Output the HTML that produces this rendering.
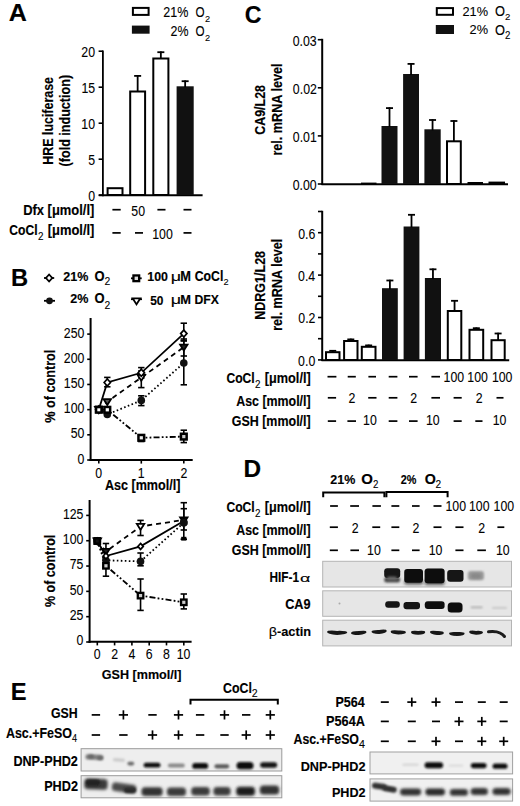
<!DOCTYPE html>
<html><head><meta charset="utf-8"><style>
html,body{margin:0;padding:0;background:#fff;}
svg{display:block;font-family:"Liberation Sans",sans-serif;}
</style></head><body>
<svg width="520" height="806" viewBox="0 0 520 806">
<rect width="520" height="806" fill="#fff"/>
<text transform="translate(8.67,21.40) scale(1.0299,1)" font-size="24.35" font-weight="bold" fill="#000" stroke="#000" stroke-width="0.15">A</text>
<rect x="132.90" y="7.90" width="15.70" height="7.00" fill="#fff" stroke="#000" stroke-width="2"/>
<rect x="131.90" y="25.60" width="17.70" height="8.10" fill="#111"/>
<text transform="translate(163.37,17.00) scale(0.8861,1)" font-size="14.14" font-weight="normal" fill="#000" stroke="#000" stroke-width="0.1">21%</text>
<text transform="translate(195.47,17.20) scale(0.7900,1)" font-size="14.78" font-weight="normal" fill="#000" stroke="#000" stroke-width="0.1">O</text>
<text transform="translate(205.04,21.80) scale(0.9502,1)" font-size="9.71" font-weight="normal" fill="#000" stroke="#000" stroke-width="0.1">2</text>
<text transform="translate(170.48,36.10) scale(0.8786,1)" font-size="14.14" font-weight="normal" fill="#000" stroke="#000" stroke-width="0.1">2%</text>
<text transform="translate(195.47,36.30) scale(0.7824,1)" font-size="14.93" font-weight="normal" fill="#000" stroke="#000" stroke-width="0.1">O</text>
<text transform="translate(205.04,41.40) scale(0.9502,1)" font-size="9.71" font-weight="normal" fill="#000" stroke="#000" stroke-width="0.1">2</text>
<line x1="102.9" y1="50.4" x2="102.9" y2="196.2" stroke="#000" stroke-width="1.8" />
<line x1="98.6" y1="195.2" x2="103" y2="195.2" stroke="#000" stroke-width="1.6" />
<text transform="translate(88.20,201.00) scale(0.8100,1)" font-size="15.20" font-weight="normal" fill="#000" stroke="#000" stroke-width="0.1">0</text>
<line x1="98.6" y1="159.2" x2="103" y2="159.2" stroke="#000" stroke-width="1.6" />
<text transform="translate(88.26,165.00) scale(0.8100,1)" font-size="15.20" font-weight="normal" fill="#000" stroke="#000" stroke-width="0.1">5</text>
<line x1="98.6" y1="123.19999999999999" x2="103" y2="123.19999999999999" stroke="#000" stroke-width="1.6" />
<text transform="translate(81.36,129.00) scale(0.8100,1)" font-size="15.20" font-weight="normal" fill="#000" stroke="#000" stroke-width="0.1">10</text>
<line x1="98.6" y1="87.19999999999999" x2="103" y2="87.19999999999999" stroke="#000" stroke-width="1.6" />
<text transform="translate(81.43,93.00) scale(0.8100,1)" font-size="15.20" font-weight="normal" fill="#000" stroke="#000" stroke-width="0.1">15</text>
<line x1="98.6" y1="51.19999999999999" x2="103" y2="51.19999999999999" stroke="#000" stroke-width="1.6" />
<text transform="translate(81.36,57.00) scale(0.8100,1)" font-size="15.20" font-weight="normal" fill="#000" stroke="#000" stroke-width="0.1">20</text>
<line x1="98.8" y1="195.3" x2="202.6" y2="195.3" stroke="#000" stroke-width="2" />
<text transform="translate(53.20,164.81) rotate(-90) scale(0.8595,1)" font-size="14.49" font-weight="bold" stroke="#000" stroke-width="0.15">HRE luciferase</text>
<text transform="translate(70.30,166.43) rotate(-90) scale(0.8687,1)" font-size="14.49" font-weight="bold" stroke="#000" stroke-width="0.15">(fold induction)</text>
<rect x="107.60" y="188.20" width="14.90" height="6.80" fill="#fff" stroke="#000" stroke-width="2"/>
<rect x="130.20" y="91.50" width="14.90" height="103.50" fill="#fff" stroke="#000" stroke-width="2"/>
<line x1="137.64999999999998" y1="75.1" x2="137.64999999999998" y2="91.5" stroke="#000" stroke-width="1.8" />
<line x1="134.14999999999998" y1="75.89999999999999" x2="141.14999999999998" y2="75.89999999999999" stroke="#000" stroke-width="1.8" />
<rect x="153.30" y="58.50" width="15.10" height="136.50" fill="#fff" stroke="#000" stroke-width="2"/>
<line x1="160.85000000000002" y1="51.4" x2="160.85000000000002" y2="58.5" stroke="#000" stroke-width="1.8" />
<line x1="157.35000000000002" y1="52.199999999999996" x2="164.35000000000002" y2="52.199999999999996" stroke="#000" stroke-width="1.8" />
<rect x="176.60" y="86.30" width="17.10" height="108.70" fill="#111"/>
<line x1="185.14999999999998" y1="80.4" x2="185.14999999999998" y2="87.3" stroke="#000" stroke-width="1.8" />
<line x1="181.64999999999998" y1="81.2" x2="188.64999999999998" y2="81.2" stroke="#000" stroke-width="1.8" />
<text transform="translate(23.16,214.70) scale(0.8851,1)" font-size="14.64" font-weight="bold" fill="#000" stroke="#000" stroke-width="0.15">Dfx [μmol/l]</text>
<text transform="translate(9.31,234.90) scale(0.8544,1)" font-size="14.20" font-weight="bold" fill="#000" stroke="#000" stroke-width="0.15">CoCl</text>
<text transform="translate(38.01,240.10) scale(0.9356,1)" font-size="10.57" font-weight="normal" fill="#000" stroke="#000" stroke-width="0.1">2</text>
<text transform="translate(47.69,234.90) scale(0.9113,1)" font-size="14.20" font-weight="bold" fill="#000" stroke="#000" stroke-width="0.15">[μmol/l]</text>
<rect x="112.40" y="208.85" width="8.30" height="1.70" fill="#000"/>
<text transform="translate(131.34,215.80) scale(0.8100,1)" font-size="15.20" font-weight="normal" fill="#000" stroke="#000" stroke-width="0.1">50</text>
<rect x="157.40" y="208.85" width="8.10" height="1.70" fill="#000"/>
<rect x="183.50" y="208.85" width="8.00" height="1.70" fill="#000"/>
<rect x="112.40" y="232.05" width="8.30" height="1.70" fill="#000"/>
<rect x="135.00" y="232.05" width="8.00" height="1.70" fill="#000"/>
<text transform="translate(152.20,238.80) scale(0.8100,1)" font-size="15.20" font-weight="normal" fill="#000" stroke="#000" stroke-width="0.1">100</text>
<rect x="183.50" y="232.05" width="8.00" height="1.70" fill="#000"/>
<text transform="translate(244.67,23.30) scale(0.9531,1)" font-size="24.35" font-weight="bold" fill="#000" stroke="#000" stroke-width="0.15">C</text>
<rect x="436.80" y="8.10" width="16.20" height="6.70" fill="#fff" stroke="#000" stroke-width="2"/>
<rect x="435.80" y="25.00" width="18.20" height="9.00" fill="#111"/>
<text transform="translate(462.46,15.60) scale(0.9329,1)" font-size="13.71" font-weight="normal" fill="#000" stroke="#000" stroke-width="0.1">21%</text>
<text transform="translate(494.92,15.90) scale(0.8954,1)" font-size="14.35" font-weight="normal" fill="#000" stroke="#000" stroke-width="0.1">O</text>
<text transform="translate(505.12,20.30) scale(0.9810,1)" font-size="9.86" font-weight="normal" fill="#000" stroke="#000" stroke-width="0.1">2</text>
<text transform="translate(469.56,34.10) scale(0.9329,1)" font-size="13.71" font-weight="normal" fill="#000" stroke="#000" stroke-width="0.1">2%</text>
<text transform="translate(494.92,34.50) scale(0.8864,1)" font-size="14.49" font-weight="normal" fill="#000" stroke="#000" stroke-width="0.1">O</text>
<text transform="translate(505.12,39.30) scale(0.9148,1)" font-size="10.57" font-weight="normal" fill="#000" stroke="#000" stroke-width="0.1">2</text>
<line x1="322.2" y1="38.8" x2="322.2" y2="185" stroke="#000" stroke-width="2" />
<line x1="317.8" y1="184.0" x2="322.2" y2="184.0" stroke="#000" stroke-width="1.6" />
<text transform="translate(292.68,189.80) scale(0.8100,1)" font-size="15.20" font-weight="normal" fill="#000" stroke="#000" stroke-width="0.1">0.00</text>
<line x1="317.8" y1="135.9" x2="322.2" y2="135.9" stroke="#000" stroke-width="1.6" />
<text transform="translate(292.81,141.70) scale(0.8100,1)" font-size="15.20" font-weight="normal" fill="#000" stroke="#000" stroke-width="0.1">0.01</text>
<line x1="317.8" y1="87.8" x2="322.2" y2="87.8" stroke="#000" stroke-width="1.6" />
<text transform="translate(292.87,93.60) scale(0.8100,1)" font-size="15.20" font-weight="normal" fill="#000" stroke="#000" stroke-width="0.1">0.02</text>
<line x1="317.8" y1="39.69999999999999" x2="322.2" y2="39.69999999999999" stroke="#000" stroke-width="1.6" />
<text transform="translate(292.75,45.50) scale(0.8100,1)" font-size="15.20" font-weight="normal" fill="#000" stroke="#000" stroke-width="0.1">0.03</text>
<line x1="321.5" y1="184.2" x2="508" y2="184.2" stroke="#000" stroke-width="2" />
<text transform="translate(264.60,134.70) rotate(-90) scale(0.8743,1)" font-size="14.20" font-weight="bold" stroke="#000" stroke-width="0.15">CA9/L28</text>
<text transform="translate(282.30,155.62) rotate(-90) scale(0.8903,1)" font-size="14.20" font-weight="bold" stroke="#000" stroke-width="0.15">rel. mRNA level</text>
<rect x="381.50" y="126.00" width="16.00" height="58.00" fill="#111"/>
<line x1="389.5" y1="107.3" x2="389.5" y2="127" stroke="#000" stroke-width="1.8" />
<line x1="386.0" y1="108.1" x2="393.0" y2="108.1" stroke="#000" stroke-width="1.8" />
<rect x="403.10" y="74.00" width="15.90" height="110.00" fill="#111"/>
<line x1="411.05" y1="63.1" x2="411.05" y2="75" stroke="#000" stroke-width="1.8" />
<line x1="407.55" y1="63.9" x2="414.55" y2="63.9" stroke="#000" stroke-width="1.8" />
<rect x="424.40" y="129.30" width="16.30" height="54.70" fill="#111"/>
<line x1="432.54999999999995" y1="119.2" x2="432.54999999999995" y2="130.3" stroke="#000" stroke-width="1.8" />
<line x1="429.04999999999995" y1="120.0" x2="436.04999999999995" y2="120.0" stroke="#000" stroke-width="1.8" />
<rect x="447.00" y="141.30" width="13.80" height="42.70" fill="#fff" stroke="#000" stroke-width="2"/>
<line x1="453.9" y1="120.2" x2="453.9" y2="141.3" stroke="#000" stroke-width="1.8" />
<line x1="450.4" y1="121.0" x2="457.4" y2="121.0" stroke="#000" stroke-width="1.8" />
<rect x="468.50" y="183.00" width="13.50" height="1.00" fill="#fff" stroke="#000" stroke-width="2"/>
<rect x="489.50" y="182.60" width="14.50" height="1.40" fill="#fff" stroke="#000" stroke-width="2"/>
<rect x="362.00" y="183.60" width="13.50" height="0.40" fill="#fff" stroke="#000" stroke-width="2"/>
<line x1="322.2" y1="210.8" x2="322.2" y2="361" stroke="#000" stroke-width="2" />
<line x1="318.0" y1="359.9" x2="322.2" y2="359.9" stroke="#000" stroke-width="1.6" />
<text transform="translate(298.12,365.70) scale(0.8100,1)" font-size="15.20" font-weight="normal" fill="#000" stroke="#000" stroke-width="0.1">0.0</text>
<line x1="318.0" y1="338.7" x2="322.2" y2="338.7" stroke="#000" stroke-width="1.6" />
<line x1="318.0" y1="317.5" x2="322.2" y2="317.5" stroke="#000" stroke-width="1.6" />
<text transform="translate(298.30,323.30) scale(0.8100,1)" font-size="15.20" font-weight="normal" fill="#000" stroke="#000" stroke-width="0.1">0.2</text>
<line x1="318.0" y1="296.29999999999995" x2="322.2" y2="296.29999999999995" stroke="#000" stroke-width="1.6" />
<line x1="318.0" y1="275.09999999999997" x2="322.2" y2="275.09999999999997" stroke="#000" stroke-width="1.6" />
<text transform="translate(298.06,280.90) scale(0.8100,1)" font-size="15.20" font-weight="normal" fill="#000" stroke="#000" stroke-width="0.1">0.4</text>
<line x1="318.0" y1="253.89999999999998" x2="322.2" y2="253.89999999999998" stroke="#000" stroke-width="1.6" />
<line x1="318.0" y1="232.7" x2="322.2" y2="232.7" stroke="#000" stroke-width="1.6" />
<text transform="translate(298.18,238.50) scale(0.8100,1)" font-size="15.20" font-weight="normal" fill="#000" stroke="#000" stroke-width="0.1">0.6</text>
<line x1="318.0" y1="211.49999999999997" x2="322.2" y2="211.49999999999997" stroke="#000" stroke-width="1.6" />
<line x1="321.5" y1="360.3" x2="509.2" y2="360.3" stroke="#000" stroke-width="2" />
<text transform="translate(264.60,319.82) rotate(-90) scale(0.8832,1)" font-size="14.20" font-weight="bold" stroke="#000" stroke-width="0.15">NDRG1/L28</text>
<text transform="translate(282.30,330.82) rotate(-90) scale(0.8883,1)" font-size="14.20" font-weight="bold" stroke="#000" stroke-width="0.15">rel. mRNA level</text>
<rect x="326.00" y="352.20" width="13.50" height="7.80" fill="#fff" stroke="#000" stroke-width="2"/>
<line x1="332.75" y1="350.0" x2="332.75" y2="352.2" stroke="#000" stroke-width="1.8" />
<line x1="329.25" y1="350.8" x2="336.25" y2="350.8" stroke="#000" stroke-width="1.8" />
<rect x="344.10" y="341.00" width="13.40" height="19.00" fill="#fff" stroke="#000" stroke-width="2"/>
<line x1="350.8" y1="338.6" x2="350.8" y2="341" stroke="#000" stroke-width="1.8" />
<line x1="347.3" y1="339.40000000000003" x2="354.3" y2="339.40000000000003" stroke="#000" stroke-width="1.8" />
<rect x="361.80" y="346.80" width="13.70" height="13.20" fill="#fff" stroke="#000" stroke-width="2"/>
<line x1="368.65" y1="344.6" x2="368.65" y2="346.8" stroke="#000" stroke-width="1.8" />
<line x1="365.15" y1="345.40000000000003" x2="372.15" y2="345.40000000000003" stroke="#000" stroke-width="1.8" />
<rect x="382.00" y="288.20" width="15.80" height="71.80" fill="#111"/>
<line x1="389.9" y1="279.7" x2="389.9" y2="289.2" stroke="#000" stroke-width="1.8" />
<line x1="386.4" y1="280.5" x2="393.4" y2="280.5" stroke="#000" stroke-width="1.8" />
<rect x="403.60" y="226.50" width="15.80" height="133.50" fill="#111"/>
<line x1="411.5" y1="214.0" x2="411.5" y2="227.5" stroke="#000" stroke-width="1.8" />
<line x1="408.0" y1="214.8" x2="415.0" y2="214.8" stroke="#000" stroke-width="1.8" />
<rect x="424.90" y="278.00" width="16.10" height="82.00" fill="#111"/>
<line x1="432.95" y1="268.5" x2="432.95" y2="279" stroke="#000" stroke-width="1.8" />
<line x1="429.45" y1="269.3" x2="436.45" y2="269.3" stroke="#000" stroke-width="1.8" />
<rect x="447.80" y="311.00" width="13.50" height="49.00" fill="#fff" stroke="#000" stroke-width="2"/>
<line x1="454.55" y1="300" x2="454.55" y2="311" stroke="#000" stroke-width="1.8" />
<line x1="451.05" y1="300.8" x2="458.05" y2="300.8" stroke="#000" stroke-width="1.8" />
<rect x="469.50" y="329.80" width="13.70" height="30.20" fill="#fff" stroke="#000" stroke-width="2"/>
<line x1="476.35" y1="327.4" x2="476.35" y2="329.8" stroke="#000" stroke-width="1.8" />
<line x1="472.85" y1="328.2" x2="479.85" y2="328.2" stroke="#000" stroke-width="1.8" />
<rect x="491.50" y="340.20" width="13.20" height="19.80" fill="#fff" stroke="#000" stroke-width="2"/>
<line x1="498.1" y1="332.7" x2="498.1" y2="340.2" stroke="#000" stroke-width="1.8" />
<line x1="494.6" y1="333.5" x2="501.6" y2="333.5" stroke="#000" stroke-width="1.8" />
<text transform="translate(226.41,382.70) scale(0.8290,1)" font-size="14.64" font-weight="bold" fill="#000" stroke="#000" stroke-width="0.15">CoCl</text>
<text transform="translate(255.11,387.90) scale(0.9356,1)" font-size="10.57" font-weight="normal" fill="#000" stroke="#000" stroke-width="0.1">2</text>
<text transform="translate(264.80,382.70) scale(0.8686,1)" font-size="14.64" font-weight="bold" fill="#000" stroke="#000" stroke-width="0.15">[μmol/l]</text>
<text transform="translate(236.19,405.80) scale(0.8482,1)" font-size="14.64" font-weight="bold" fill="#000" stroke="#000" stroke-width="0.15">Asc [mmol/l]</text>
<text transform="translate(231.70,426.00) scale(0.8525,1)" font-size="14.64" font-weight="bold" fill="#000" stroke="#000" stroke-width="0.15">GSH [mmol/l]</text>
<rect x="327.50" y="375.85" width="8.90" height="1.70" fill="#000"/>
<rect x="347.70" y="375.85" width="8.10" height="1.70" fill="#000"/>
<rect x="368.40" y="375.85" width="7.60" height="1.70" fill="#000"/>
<rect x="388.70" y="375.85" width="8.70" height="1.70" fill="#000"/>
<rect x="409.00" y="375.85" width="8.60" height="1.70" fill="#000"/>
<rect x="431.40" y="375.85" width="8.60" height="1.70" fill="#000"/>
<text transform="translate(443.55,382.00) scale(0.8100,1)" font-size="15.20" font-weight="normal" fill="#000" stroke="#000" stroke-width="0.1">100</text>
<text transform="translate(467.35,382.00) scale(0.8100,1)" font-size="15.20" font-weight="normal" fill="#000" stroke="#000" stroke-width="0.1">100</text>
<text transform="translate(491.90,382.00) scale(0.8100,1)" font-size="15.20" font-weight="normal" fill="#000" stroke="#000" stroke-width="0.1">100</text>
<rect x="327.80" y="396.95" width="8.30" height="1.70" fill="#000"/>
<text transform="translate(348.48,403.00) scale(0.8100,1)" font-size="15.20" font-weight="normal" fill="#000" stroke="#000" stroke-width="0.1">2</text>
<rect x="368.20" y="396.95" width="8.30" height="1.70" fill="#000"/>
<rect x="388.70" y="396.95" width="8.70" height="1.70" fill="#000"/>
<text transform="translate(410.18,403.00) scale(0.8100,1)" font-size="15.20" font-weight="normal" fill="#000" stroke="#000" stroke-width="0.1">2</text>
<rect x="431.40" y="396.95" width="8.60" height="1.70" fill="#000"/>
<rect x="453.60" y="396.95" width="8.10" height="1.70" fill="#000"/>
<text transform="translate(475.78,403.00) scale(0.8100,1)" font-size="15.20" font-weight="normal" fill="#000" stroke="#000" stroke-width="0.1">2</text>
<rect x="496.50" y="396.95" width="7.00" height="1.70" fill="#000"/>
<rect x="327.80" y="420.25" width="8.30" height="1.70" fill="#000"/>
<rect x="347.40" y="420.25" width="8.60" height="1.70" fill="#000"/>
<text transform="translate(363.12,424.90) scale(0.8100,1)" font-size="15.20" font-weight="normal" fill="#000" stroke="#000" stroke-width="0.1">10</text>
<rect x="388.70" y="420.25" width="8.70" height="1.70" fill="#000"/>
<rect x="409.00" y="420.25" width="8.60" height="1.70" fill="#000"/>
<text transform="translate(426.02,424.90) scale(0.8100,1)" font-size="15.20" font-weight="normal" fill="#000" stroke="#000" stroke-width="0.1">10</text>
<rect x="453.60" y="420.25" width="8.10" height="1.70" fill="#000"/>
<rect x="475.30" y="420.25" width="7.20" height="1.70" fill="#000"/>
<text transform="translate(492.72,424.90) scale(0.8100,1)" font-size="15.20" font-weight="normal" fill="#000" stroke="#000" stroke-width="0.1">10</text>
<text transform="translate(11.05,286.30) scale(0.9940,1)" font-size="23.91" font-weight="bold" fill="#000" stroke="#000" stroke-width="0.15">B</text>
<line x1="44.0" y1="278" x2="54.2" y2="278" stroke="#000" stroke-width="1.8" />
<path d="M49.1 274.5 L52.25 278 L49.1 281.5 L45.95 278 Z" fill="#fff" stroke="#000" stroke-width="1.8"/>
<line x1="44.0" y1="300.8" x2="55.0" y2="300.8" stroke="#000" stroke-width="1.8" />
<circle cx="49.5" cy="300.8" r="3.4" fill="#111"/>
<line x1="131" y1="278.3" x2="141.7" y2="278.3" stroke="#000" stroke-width="1.8" />
<rect x="133.45" y="275.45" width="5.70" height="5.70" fill="#ddd" stroke="#000" stroke-width="2.3"/>
<line x1="131" y1="299.2" x2="142" y2="299.2" stroke="#000" stroke-width="1.8" />
<path d="M132.7 298.34 L140.3 298.34 L136.5 304.42 Z" fill="#fff" stroke="#000" stroke-width="1.8" stroke-linejoin="miter"/>
<text transform="translate(63.26,280.50) scale(0.9133,1)" font-size="13.71" font-weight="bold" fill="#000" stroke="#000" stroke-width="0.15">21%</text>
<text transform="translate(94.38,280.80) scale(0.9026,1)" font-size="14.35" font-weight="bold" fill="#000" stroke="#000" stroke-width="0.15">O</text>
<text transform="translate(104.48,285.30) scale(1.0330,1)" font-size="10.00" font-weight="normal" fill="#000" stroke="#000" stroke-width="0.1">2</text>
<text transform="translate(70.16,302.70) scale(0.9257,1)" font-size="13.57" font-weight="bold" fill="#000" stroke="#000" stroke-width="0.15">2%</text>
<text transform="translate(94.38,303.00) scale(0.9118,1)" font-size="14.20" font-weight="bold" fill="#000" stroke="#000" stroke-width="0.15">O</text>
<text transform="translate(104.48,308.50) scale(0.9641,1)" font-size="10.71" font-weight="normal" fill="#000" stroke="#000" stroke-width="0.1">2</text>
<text transform="translate(147.26,280.80) scale(0.9432,1)" font-size="13.14" font-weight="bold" fill="#000" stroke="#000" stroke-width="0.15">100</text>
<text transform="translate(170.73,280.60) scale(1.3300,1)" font-size="13.50" font-weight="normal" fill="#000" stroke="#000" stroke-width="0.1">μ</text>
<text transform="translate(180.36,280.60) scale(0.9052,1)" font-size="14.20" font-weight="bold" fill="#000" stroke="#000" stroke-width="0.15">M</text>
<text transform="translate(194.71,280.60) scale(0.8639,1)" font-size="14.20" font-weight="bold" fill="#000" stroke="#000" stroke-width="0.15">CoCl</text>
<text transform="translate(223.44,285.20) scale(0.9502,1)" font-size="9.71" font-weight="normal" fill="#000" stroke="#000" stroke-width="0.1">2</text>
<text transform="translate(150.24,304.70) scale(0.9072,1)" font-size="13.14" font-weight="bold" fill="#000" stroke="#000" stroke-width="0.15">50</text>
<text transform="translate(170.73,304.00) scale(1.3300,1)" font-size="13.50" font-weight="normal" fill="#000" stroke="#000" stroke-width="0.1">μ</text>
<text transform="translate(180.36,304.00) scale(0.9438,1)" font-size="13.62" font-weight="bold" fill="#000" stroke="#000" stroke-width="0.15">M</text>
<text transform="translate(194.41,304.00) scale(0.8961,1)" font-size="13.62" font-weight="bold" fill="#000" stroke="#000" stroke-width="0.15">DFX</text>
<line x1="90.6" y1="318" x2="90.6" y2="461" stroke="#000" stroke-width="2" />
<line x1="87.2" y1="460.0" x2="90.6" y2="460.0" stroke="#000" stroke-width="1.6" />
<text transform="translate(77.50,463.60) scale(0.8100,1)" font-size="15.20" font-weight="normal" fill="#000" stroke="#000" stroke-width="0.1">0</text>
<line x1="87.2" y1="434.82" x2="90.6" y2="434.82" stroke="#000" stroke-width="1.6" />
<text transform="translate(70.66,438.42) scale(0.8100,1)" font-size="15.20" font-weight="normal" fill="#000" stroke="#000" stroke-width="0.1">50</text>
<line x1="87.2" y1="409.64" x2="90.6" y2="409.64" stroke="#000" stroke-width="1.6" />
<text transform="translate(63.83,413.24) scale(0.8100,1)" font-size="15.20" font-weight="normal" fill="#000" stroke="#000" stroke-width="0.1">100</text>
<line x1="87.2" y1="384.46" x2="90.6" y2="384.46" stroke="#000" stroke-width="1.6" />
<text transform="translate(63.83,388.06) scale(0.8100,1)" font-size="15.20" font-weight="normal" fill="#000" stroke="#000" stroke-width="0.1">150</text>
<line x1="87.2" y1="359.28" x2="90.6" y2="359.28" stroke="#000" stroke-width="1.6" />
<text transform="translate(63.83,362.88) scale(0.8100,1)" font-size="15.20" font-weight="normal" fill="#000" stroke="#000" stroke-width="0.1">200</text>
<line x1="87.2" y1="334.1" x2="90.6" y2="334.1" stroke="#000" stroke-width="1.6" />
<text transform="translate(63.83,337.70) scale(0.8100,1)" font-size="15.20" font-weight="normal" fill="#000" stroke="#000" stroke-width="0.1">250</text>
<line x1="89.6" y1="460" x2="192.7" y2="460" stroke="#000" stroke-width="2" />
<line x1="98.8" y1="460" x2="98.8" y2="463.6" stroke="#000" stroke-width="1.6" />
<text transform="translate(95.35,477.90) scale(0.8100,1)" font-size="15.20" font-weight="normal" fill="#000" stroke="#000" stroke-width="0.1">0</text>
<line x1="141.3" y1="460" x2="141.3" y2="463.6" stroke="#000" stroke-width="1.6" />
<text transform="translate(137.70,477.90) scale(0.8100,1)" font-size="15.20" font-weight="normal" fill="#000" stroke="#000" stroke-width="0.1">1</text>
<line x1="183.8" y1="460" x2="183.8" y2="463.6" stroke="#000" stroke-width="1.6" />
<text transform="translate(180.38,477.90) scale(0.8100,1)" font-size="15.20" font-weight="normal" fill="#000" stroke="#000" stroke-width="0.1">2</text>
<text transform="translate(104.88,489.60) scale(0.9057,1)" font-size="13.91" font-weight="bold" fill="#000" stroke="#000" stroke-width="0.15">Asc [mmol/l]</text>
<text transform="translate(55.00,422.82) rotate(-90) scale(0.9022,1)" font-size="14.06" font-weight="bold" stroke="#000" stroke-width="0.15">% of control</text>
<line x1="107.3" y1="377.4" x2="107.3" y2="386.8" stroke="#000" stroke-width="1.6" />
<line x1="104.1" y1="377.4" x2="110.5" y2="377.4" stroke="#000" stroke-width="1.6" />
<line x1="104.1" y1="386.8" x2="110.5" y2="386.8" stroke="#000" stroke-width="1.6" />
<line x1="141.3" y1="367.6" x2="141.3" y2="378" stroke="#000" stroke-width="1.6" />
<line x1="138.10000000000002" y1="367.6" x2="144.5" y2="367.6" stroke="#000" stroke-width="1.6" />
<line x1="138.10000000000002" y1="378" x2="144.5" y2="378" stroke="#000" stroke-width="1.6" />
<line x1="183.8" y1="323.2" x2="183.8" y2="340.5" stroke="#000" stroke-width="1.6" />
<line x1="180.60000000000002" y1="323.2" x2="187.0" y2="323.2" stroke="#000" stroke-width="1.6" />
<line x1="180.60000000000002" y1="340.5" x2="187.0" y2="340.5" stroke="#000" stroke-width="1.6" />
<line x1="141.3" y1="371" x2="141.3" y2="387.6" stroke="#000" stroke-width="1.6" />
<line x1="138.10000000000002" y1="371" x2="144.5" y2="371" stroke="#000" stroke-width="1.6" />
<line x1="138.10000000000002" y1="387.6" x2="144.5" y2="387.6" stroke="#000" stroke-width="1.6" />
<line x1="183.8" y1="339" x2="183.8" y2="356" stroke="#000" stroke-width="1.6" />
<line x1="180.60000000000002" y1="339" x2="187.0" y2="339" stroke="#000" stroke-width="1.6" />
<line x1="180.60000000000002" y1="356" x2="187.0" y2="356" stroke="#000" stroke-width="1.6" />
<line x1="141.3" y1="395.8" x2="141.3" y2="405.6" stroke="#000" stroke-width="1.6" />
<line x1="138.10000000000002" y1="395.8" x2="144.5" y2="395.8" stroke="#000" stroke-width="1.6" />
<line x1="138.10000000000002" y1="405.6" x2="144.5" y2="405.6" stroke="#000" stroke-width="1.6" />
<line x1="183.8" y1="341" x2="183.8" y2="384.8" stroke="#000" stroke-width="1.6" />
<line x1="180.60000000000002" y1="341" x2="187.0" y2="341" stroke="#000" stroke-width="1.6" />
<line x1="180.60000000000002" y1="384.8" x2="187.0" y2="384.8" stroke="#000" stroke-width="1.6" />
<line x1="183.8" y1="430.2" x2="183.8" y2="442.6" stroke="#000" stroke-width="1.6" />
<line x1="180.60000000000002" y1="430.2" x2="187.0" y2="430.2" stroke="#000" stroke-width="1.6" />
<line x1="180.60000000000002" y1="442.6" x2="187.0" y2="442.6" stroke="#000" stroke-width="1.6" />
<line x1="141.3" y1="435" x2="141.3" y2="441.5" stroke="#000" stroke-width="1.6" />
<line x1="138.10000000000002" y1="435" x2="144.5" y2="435" stroke="#000" stroke-width="1.6" />
<line x1="138.10000000000002" y1="441.5" x2="144.5" y2="441.5" stroke="#000" stroke-width="1.6" />
<polyline points="98.80,409.60 107.30,414.50 141.30,400.40 183.80,363.00" fill="none" stroke="#000" stroke-width="1.8" stroke-dasharray="1.6 2.4"/>
<polyline points="98.80,409.60 107.30,409.80 141.30,437.80 183.80,436.60" fill="none" stroke="#000" stroke-width="1.8" stroke-dasharray="6 2.2 1.8 2.2 1.8 2.2"/>
<polyline points="98.80,409.60 107.30,401.70 141.30,377.50 183.80,347.20" fill="none" stroke="#000" stroke-width="1.8" stroke-dasharray="5 4"/>
<polyline points="98.80,409.60 107.30,382.50 141.30,372.80 183.80,333.60" fill="none" stroke="#000" stroke-width="1.8" />
<circle cx="98.8" cy="409.6" r="3.8" fill="#111"/>
<circle cx="107.3" cy="414.5" r="3.8" fill="#111"/>
<circle cx="141.3" cy="400.4" r="3.8" fill="#111"/>
<circle cx="183.8" cy="363.0" r="3.8" fill="#111"/>
<rect x="95.95" y="406.75" width="5.70" height="5.70" fill="#fff" stroke="#000" stroke-width="2.5"/>
<rect x="104.45" y="406.95" width="5.70" height="5.70" fill="#fff" stroke="#000" stroke-width="2.5"/>
<rect x="138.45" y="434.95" width="5.70" height="5.70" fill="#eee" stroke="#000" stroke-width="2.5"/>
<rect x="180.95" y="433.75" width="5.70" height="5.70" fill="#ccc" stroke="#000" stroke-width="2.5"/>
<path d="M95.1 407.01000000000005 L102.5 407.01000000000005 L98.8 412.93 Z" fill="#fff" stroke="#000" stroke-width="1.8" stroke-linejoin="miter"/>
<path d="M103.6 399.11 L111.0 399.11 L107.3 405.03 Z" fill="#555" stroke="#000" stroke-width="1.8" stroke-linejoin="miter"/>
<path d="M137.60000000000002 374.91 L145.0 374.91 L141.3 380.83 Z" fill="#fff" stroke="#000" stroke-width="1.8" stroke-linejoin="miter"/>
<path d="M180.10000000000002 344.61 L187.5 344.61 L183.8 350.53 Z" fill="#222" stroke="#000" stroke-width="1.8" stroke-linejoin="miter"/>
<path d="M98.8 406.1 L101.95 409.6 L98.8 413.1 L95.64999999999999 409.6 Z" fill="#fff" stroke="#000" stroke-width="1.7"/>
<path d="M107.3 379.0 L110.45 382.5 L107.3 386.0 L104.14999999999999 382.5 Z" fill="#fff" stroke="#000" stroke-width="1.7"/>
<path d="M141.3 369.3 L144.45000000000002 372.8 L141.3 376.3 L138.15 372.8 Z" fill="#fff" stroke="#000" stroke-width="1.7"/>
<path d="M183.8 330.1 L186.95000000000002 333.6 L183.8 337.1 L180.65 333.6 Z" fill="#fff" stroke="#000" stroke-width="1.7"/>
<rect x="96.20" y="407.20" width="5.20" height="5.20" fill="#fff" stroke="#000" stroke-width="2.2"/>
<line x1="89.6" y1="500" x2="89.6" y2="643" stroke="#000" stroke-width="2" />
<line x1="86.2" y1="642.0" x2="89.6" y2="642.0" stroke="#000" stroke-width="1.6" />
<text transform="translate(76.50,645.40) scale(0.8100,1)" font-size="15.20" font-weight="normal" fill="#000" stroke="#000" stroke-width="0.1">0</text>
<line x1="86.2" y1="616.68" x2="89.6" y2="616.68" stroke="#000" stroke-width="1.6" />
<text transform="translate(69.73,620.08) scale(0.8100,1)" font-size="15.20" font-weight="normal" fill="#000" stroke="#000" stroke-width="0.1">25</text>
<line x1="86.2" y1="591.36" x2="89.6" y2="591.36" stroke="#000" stroke-width="1.6" />
<text transform="translate(69.66,594.76) scale(0.8100,1)" font-size="15.20" font-weight="normal" fill="#000" stroke="#000" stroke-width="0.1">50</text>
<line x1="86.2" y1="566.04" x2="89.6" y2="566.04" stroke="#000" stroke-width="1.6" />
<text transform="translate(69.73,569.44) scale(0.8100,1)" font-size="15.20" font-weight="normal" fill="#000" stroke="#000" stroke-width="0.1">75</text>
<line x1="86.2" y1="540.72" x2="89.6" y2="540.72" stroke="#000" stroke-width="1.6" />
<text transform="translate(62.83,544.12) scale(0.8100,1)" font-size="15.20" font-weight="normal" fill="#000" stroke="#000" stroke-width="0.1">100</text>
<line x1="86.2" y1="515.4" x2="89.6" y2="515.4" stroke="#000" stroke-width="1.6" />
<text transform="translate(62.89,518.80) scale(0.8100,1)" font-size="15.20" font-weight="normal" fill="#000" stroke="#000" stroke-width="0.1">125</text>
<line x1="88.6" y1="641.8" x2="191.6" y2="641.8" stroke="#000" stroke-width="2" />
<line x1="97.3" y1="641.8" x2="97.3" y2="645.4" stroke="#000" stroke-width="1.6" />
<text transform="translate(93.85,659.20) scale(0.8100,1)" font-size="15.20" font-weight="normal" fill="#000" stroke="#000" stroke-width="0.1">0</text>
<line x1="114.6" y1="641.8" x2="114.6" y2="645.4" stroke="#000" stroke-width="1.6" />
<text transform="translate(111.18,659.20) scale(0.8100,1)" font-size="15.20" font-weight="normal" fill="#000" stroke="#000" stroke-width="0.1">2</text>
<line x1="131.9" y1="641.8" x2="131.9" y2="645.4" stroke="#000" stroke-width="1.6" />
<text transform="translate(128.54,659.20) scale(0.8100,1)" font-size="15.20" font-weight="normal" fill="#000" stroke="#000" stroke-width="0.1">4</text>
<line x1="149.2" y1="641.8" x2="149.2" y2="645.4" stroke="#000" stroke-width="1.6" />
<text transform="translate(145.72,659.20) scale(0.8100,1)" font-size="15.20" font-weight="normal" fill="#000" stroke="#000" stroke-width="0.1">6</text>
<line x1="166.5" y1="641.8" x2="166.5" y2="645.4" stroke="#000" stroke-width="1.6" />
<text transform="translate(163.05,659.20) scale(0.8100,1)" font-size="15.20" font-weight="normal" fill="#000" stroke="#000" stroke-width="0.1">8</text>
<line x1="183.8" y1="641.8" x2="183.8" y2="645.4" stroke="#000" stroke-width="1.6" />
<text transform="translate(176.72,659.20) scale(0.8100,1)" font-size="15.20" font-weight="normal" fill="#000" stroke="#000" stroke-width="0.1">10</text>
<text transform="translate(101.80,678.50) scale(0.9546,1)" font-size="13.19" font-weight="bold" fill="#000" stroke="#000" stroke-width="0.15">GSH [mmol/l]</text>
<text transform="translate(54.60,607.11) rotate(-90) scale(0.8921,1)" font-size="14.06" font-weight="bold" stroke="#000" stroke-width="0.15">% of control</text>
<line x1="105.95" y1="543.5" x2="105.95" y2="560" stroke="#000" stroke-width="1.6" />
<line x1="102.75" y1="543.5" x2="109.15" y2="543.5" stroke="#000" stroke-width="1.6" />
<line x1="102.75" y1="560" x2="109.15" y2="560" stroke="#000" stroke-width="1.6" />
<line x1="105.95" y1="560" x2="105.95" y2="576.2" stroke="#000" stroke-width="1.6" />
<line x1="102.75" y1="560" x2="109.15" y2="560" stroke="#000" stroke-width="1.6" />
<line x1="102.75" y1="576.2" x2="109.15" y2="576.2" stroke="#000" stroke-width="1.6" />
<line x1="140.55" y1="520.4" x2="140.55" y2="535.5" stroke="#000" stroke-width="1.6" />
<line x1="137.35000000000002" y1="520.4" x2="143.75" y2="520.4" stroke="#000" stroke-width="1.6" />
<line x1="137.35000000000002" y1="535.5" x2="143.75" y2="535.5" stroke="#000" stroke-width="1.6" />
<line x1="140.55" y1="553" x2="140.55" y2="565.8" stroke="#000" stroke-width="1.6" />
<line x1="137.35000000000002" y1="553" x2="143.75" y2="553" stroke="#000" stroke-width="1.6" />
<line x1="137.35000000000002" y1="565.8" x2="143.75" y2="565.8" stroke="#000" stroke-width="1.6" />
<line x1="140.55" y1="579" x2="140.55" y2="610.4" stroke="#000" stroke-width="1.6" />
<line x1="137.35000000000002" y1="579" x2="143.75" y2="579" stroke="#000" stroke-width="1.6" />
<line x1="137.35000000000002" y1="610.4" x2="143.75" y2="610.4" stroke="#000" stroke-width="1.6" />
<line x1="183.8" y1="502.7" x2="183.8" y2="539.2" stroke="#000" stroke-width="1.6" />
<line x1="180.60000000000002" y1="502.7" x2="187.0" y2="502.7" stroke="#000" stroke-width="1.6" />
<line x1="180.60000000000002" y1="539.2" x2="187.0" y2="539.2" stroke="#000" stroke-width="1.6" />
<line x1="183.8" y1="508.7" x2="183.8" y2="530" stroke="#000" stroke-width="1.6" />
<line x1="180.60000000000002" y1="508.7" x2="187.0" y2="508.7" stroke="#000" stroke-width="1.6" />
<line x1="180.60000000000002" y1="530" x2="187.0" y2="530" stroke="#000" stroke-width="1.6" />
<line x1="183.8" y1="594" x2="183.8" y2="608.9" stroke="#000" stroke-width="1.6" />
<line x1="180.60000000000002" y1="594" x2="187.0" y2="594" stroke="#000" stroke-width="1.6" />
<line x1="180.60000000000002" y1="608.9" x2="187.0" y2="608.9" stroke="#000" stroke-width="1.6" />
<polyline points="97.30,541.00 105.95,560.30 140.55,561.40 183.80,522.70" fill="none" stroke="#000" stroke-width="1.8" stroke-dasharray="1.6 2.4"/>
<polyline points="97.30,541.00 105.95,565.80 140.55,595.60 183.80,602.30" fill="none" stroke="#000" stroke-width="1.8" stroke-dasharray="6 2.2 1.8 2.2 1.8 2.2"/>
<polyline points="97.30,541.00 105.95,551.50 140.55,526.50 183.80,519.90" fill="none" stroke="#000" stroke-width="1.8" stroke-dasharray="5 4"/>
<polyline points="97.30,541.00 105.95,556.00 140.55,546.40 183.80,521.00" fill="none" stroke="#000" stroke-width="1.8" />
<circle cx="97.3" cy="541" r="3.8" fill="#111"/>
<circle cx="105.95" cy="560.3" r="3.8" fill="#111"/>
<circle cx="140.55" cy="561.4" r="3.8" fill="#111"/>
<circle cx="183.8" cy="522.7" r="3.8" fill="#111"/>
<rect x="94.55" y="538.25" width="5.50" height="5.50" fill="#ccc" stroke="#000" stroke-width="2.3"/>
<rect x="103.20" y="563.05" width="5.50" height="5.50" fill="#ccc" stroke="#000" stroke-width="2.3"/>
<rect x="137.80" y="592.85" width="5.50" height="5.50" fill="#ccc" stroke="#000" stroke-width="2.3"/>
<rect x="181.05" y="599.55" width="5.50" height="5.50" fill="#ccc" stroke="#000" stroke-width="2.3"/>
<path d="M93.6 538.41 L101.0 538.41 L97.3 544.33 Z" fill="#fff" stroke="#000" stroke-width="1.8" stroke-linejoin="miter"/>
<path d="M102.25 548.91 L109.65 548.91 L105.95 554.83 Z" fill="#222" stroke="#000" stroke-width="1.8" stroke-linejoin="miter"/>
<path d="M136.85000000000002 523.91 L144.25 523.91 L140.55 529.83 Z" fill="#fff" stroke="#000" stroke-width="1.8" stroke-linejoin="miter"/>
<path d="M180.10000000000002 517.31 L187.5 517.31 L183.8 523.23 Z" fill="#222" stroke="#000" stroke-width="1.8" stroke-linejoin="miter"/>
<path d="M97.3 538.0 L100.0 541 L97.3 544.0 L94.6 541 Z" fill="#fff" stroke="#000" stroke-width="1.7"/>
<path d="M105.95 553.0 L108.65 556 L105.95 559.0 L103.25 556 Z" fill="#fff" stroke="#000" stroke-width="1.7"/>
<path d="M140.55 543.4 L143.25 546.4 L140.55 549.4 L137.85000000000002 546.4 Z" fill="#fff" stroke="#000" stroke-width="1.7"/>
<path d="M183.8 518.0 L186.5 521 L183.8 524.0 L181.10000000000002 521 Z" fill="#fff" stroke="#000" stroke-width="1.7"/>
<rect x="94.70" y="538.40" width="5.20" height="5.20" fill="#111" stroke="#000" stroke-width="2.2"/>
<circle cx="183.8" cy="522.7" r="3.8" fill="#111"/>
<rect x="181.20" y="536.80" width="5.20" height="3.80" fill="#000"/>
<text transform="translate(243.51,476.70) scale(1.0325,1)" font-size="23.62" font-weight="bold" fill="#000" stroke="#000" stroke-width="0.15">D</text>
<text transform="translate(330.36,483.80) scale(0.9289,1)" font-size="13.43" font-weight="bold" fill="#000" stroke="#000" stroke-width="0.15">21%</text>
<text transform="translate(361.30,484.00) scale(1.0755,1)" font-size="13.91" font-weight="bold" fill="#000" stroke="#000" stroke-width="0.15">O</text>
<text transform="translate(372.92,488.00) scale(0.9402,1)" font-size="10.29" font-weight="normal" fill="#000" stroke="#000" stroke-width="0.1">2</text>
<text transform="translate(400.82,483.80) scale(0.8065,1)" font-size="13.43" font-weight="bold" fill="#000" stroke="#000" stroke-width="0.15">2%</text>
<text transform="translate(424.83,484.00) scale(1.0238,1)" font-size="13.91" font-weight="bold" fill="#000" stroke="#000" stroke-width="0.15">O</text>
<text transform="translate(435.49,488.00) scale(0.9829,1)" font-size="10.29" font-weight="normal" fill="#000" stroke="#000" stroke-width="0.1">2</text>
<path d="M323.2 497.3 V492.4 H384.4 V497.3" fill="none" stroke="#000" stroke-width="2"/>
<path d="M386.4 497.3 V492.0 H447.6 V497.3" fill="none" stroke="#000" stroke-width="2"/>
<text transform="translate(226.41,512.00) scale(0.8290,1)" font-size="14.64" font-weight="bold" fill="#000" stroke="#000" stroke-width="0.15">CoCl</text>
<text transform="translate(255.11,517.20) scale(0.9356,1)" font-size="10.57" font-weight="normal" fill="#000" stroke="#000" stroke-width="0.1">2</text>
<text transform="translate(264.80,512.00) scale(0.8686,1)" font-size="14.64" font-weight="bold" fill="#000" stroke="#000" stroke-width="0.15">[μmol/l]</text>
<text transform="translate(236.19,535.10) scale(0.8482,1)" font-size="14.64" font-weight="bold" fill="#000" stroke="#000" stroke-width="0.15">Asc [mmol/l]</text>
<text transform="translate(231.70,555.30) scale(0.8525,1)" font-size="14.64" font-weight="bold" fill="#000" stroke="#000" stroke-width="0.15">GSH [mmol/l]</text>
<rect x="330.10" y="505.15" width="7.80" height="1.70" fill="#000"/>
<rect x="350.20" y="505.15" width="8.80" height="1.70" fill="#000"/>
<rect x="372.40" y="505.15" width="8.50" height="1.70" fill="#000"/>
<rect x="391.40" y="505.15" width="7.90" height="1.70" fill="#000"/>
<rect x="412.00" y="505.15" width="7.60" height="1.70" fill="#000"/>
<rect x="433.50" y="505.15" width="8.00" height="1.70" fill="#000"/>
<text transform="translate(445.50,511.40) scale(0.8100,1)" font-size="15.20" font-weight="normal" fill="#000" stroke="#000" stroke-width="0.1">100</text>
<text transform="translate(469.00,511.40) scale(0.8100,1)" font-size="15.20" font-weight="normal" fill="#000" stroke="#000" stroke-width="0.1">100</text>
<text transform="translate(493.60,511.40) scale(0.8100,1)" font-size="15.20" font-weight="normal" fill="#000" stroke="#000" stroke-width="0.1">100</text>
<rect x="329.80" y="526.35" width="8.10" height="1.70" fill="#000"/>
<text transform="translate(351.68,532.60) scale(0.8100,1)" font-size="15.20" font-weight="normal" fill="#000" stroke="#000" stroke-width="0.1">2</text>
<rect x="372.30" y="526.35" width="7.90" height="1.70" fill="#000"/>
<rect x="391.40" y="526.35" width="7.90" height="1.70" fill="#000"/>
<text transform="translate(412.38,532.60) scale(0.8100,1)" font-size="15.20" font-weight="normal" fill="#000" stroke="#000" stroke-width="0.1">2</text>
<rect x="433.50" y="526.35" width="8.00" height="1.70" fill="#000"/>
<rect x="455.40" y="526.35" width="8.10" height="1.70" fill="#000"/>
<text transform="translate(478.18,532.60) scale(0.8100,1)" font-size="15.20" font-weight="normal" fill="#000" stroke="#000" stroke-width="0.1">2</text>
<rect x="497.40" y="526.35" width="6.90" height="1.70" fill="#000"/>
<rect x="329.80" y="549.45" width="8.10" height="1.70" fill="#000"/>
<rect x="350.40" y="549.45" width="8.60" height="1.70" fill="#000"/>
<text transform="translate(367.12,554.50) scale(0.8100,1)" font-size="15.20" font-weight="normal" fill="#000" stroke="#000" stroke-width="0.1">10</text>
<rect x="391.40" y="549.45" width="7.90" height="1.70" fill="#000"/>
<rect x="412.00" y="549.45" width="7.60" height="1.70" fill="#000"/>
<text transform="translate(428.77,554.50) scale(0.8100,1)" font-size="15.20" font-weight="normal" fill="#000" stroke="#000" stroke-width="0.1">10</text>
<rect x="455.40" y="549.45" width="8.10" height="1.70" fill="#000"/>
<rect x="477.30" y="549.45" width="8.60" height="1.70" fill="#000"/>
<text transform="translate(495.97,554.50) scale(0.8100,1)" font-size="15.20" font-weight="normal" fill="#000" stroke="#000" stroke-width="0.1">10</text>
<defs>
<filter id="bl0" x="-30%" y="-60%" width="160%" height="220%"><feGaussianBlur stdDeviation="0.6"/></filter>
<filter id="bl1" x="-30%" y="-60%" width="160%" height="220%"><feGaussianBlur stdDeviation="0.9"/></filter>
<filter id="bl2" x="-30%" y="-60%" width="160%" height="220%"><feGaussianBlur stdDeviation="1.4"/></filter>
</defs>
<rect x="322.70" y="561.30" width="188.80" height="25.70" fill="#e6e6e6" stroke="#b4b4b4" stroke-width="1"/>
<rect x="322.70" y="590.80" width="188.80" height="25.50" fill="#e6e6e6" stroke="#b4b4b4" stroke-width="1"/>
<rect x="322.70" y="620.20" width="188.80" height="25.70" fill="#e6e6e6" stroke="#b4b4b4" stroke-width="1"/>
<rect x="384.20" y="577.00" width="16.00" height="5.50" rx="2.50" fill="#4a4a4a" opacity="1" filter="url(#bl1)"/>
<rect x="384.20" y="568.20" width="16.00" height="9.80" rx="3.00" fill="#141414" opacity="1" filter="url(#bl0)"/>
<rect x="387.00" y="576.50" width="10.00" height="3.50" rx="1.50" fill="#666" opacity="1" filter="url(#bl1)"/>
<rect x="404.20" y="580.00" width="18.80" height="4.50" rx="2.00" fill="#555" opacity="1" filter="url(#bl2)"/>
<rect x="404.20" y="568.90" width="18.80" height="13.90" rx="3.00" fill="#0e0e0e" opacity="1" filter="url(#bl0)"/>
<rect x="424.60" y="580.00" width="20.00" height="5.00" rx="2.00" fill="#555" opacity="1" filter="url(#bl2)"/>
<rect x="424.60" y="568.40" width="20.00" height="14.80" rx="3.00" fill="#0a0a0a" opacity="1" filter="url(#bl0)"/>
<rect x="447.20" y="570.00" width="16.30" height="11.80" rx="3.00" fill="#121212" opacity="1" filter="url(#bl0)"/>
<rect x="467.90" y="571.00" width="16.10" height="9.20" rx="3.00" fill="#9a9a9a" opacity="1" filter="url(#bl1)"/>
<rect x="471.00" y="573.50" width="10.00" height="5.00" rx="2.00" fill="#888" opacity="1" filter="url(#bl1)"/>
<rect x="385.20" y="601.20" width="14.60" height="6.60" rx="3.00" fill="#121212" opacity="1" filter="url(#bl0)"/>
<rect x="403.50" y="602.00" width="16.50" height="7.20" rx="3.00" fill="#121212" opacity="1" filter="url(#bl0)"/>
<rect x="424.80" y="601.30" width="19.80" height="7.70" rx="3.00" fill="#0c0c0c" opacity="1" filter="url(#bl0)"/>
<rect x="447.70" y="602.40" width="14.80" height="10.20" rx="3.50" fill="#0c0c0c" opacity="1" filter="url(#bl0)"/>
<rect x="470.60" y="606.40" width="12.10" height="1.80" rx="0.80" fill="#aaa" opacity="1" filter="url(#bl1)"/>
<rect x="492.00" y="607.00" width="15.00" height="1.80" rx="0.80" fill="#c4c4c4" opacity="1" filter="url(#bl1)"/>
<circle cx="339.5" cy="603.5" r="1" fill="#aaa"/>
<path d="M327.1 632.0 Q327.1 630.0 337.2 630.9 Q347.3 630.6 347.3 632.6 Q347.3 634.5 337.2 634.9 Q327.1 634.0 327.1 632.0 Z" fill="#141414" filter="url(#bl0)"/>
<path d="M351.0 633.1 Q351.0 631.1 358.8 631.1 Q366.5 629.9 366.5 631.9 Q366.5 633.9 358.8 635.1 Q351.0 635.1 351.0 633.1 Z" fill="#141414" filter="url(#bl0)"/>
<path d="M371.5 631.7 Q371.5 629.7 379.1 629.9 Q386.7 628.9 386.7 630.9 Q386.7 632.9 379.1 633.9 Q371.5 633.6 371.5 631.7 Z" fill="#141414" filter="url(#bl0)"/>
<path d="M390.7 631.8 Q390.7 629.8 398.3 630.6 Q405.9 630.2 405.9 632.2 Q405.9 634.2 398.3 634.6 Q390.7 633.8 390.7 631.8 Z" fill="#141414" filter="url(#bl0)"/>
<path d="M411.0 632.2 Q411.0 630.2 418.1 630.9 Q425.2 630.2 425.2 632.2 Q425.2 634.2 418.1 634.8 Q411.0 634.2 411.0 632.2 Z" fill="#141414" filter="url(#bl0)"/>
<path d="M430.0 632.1 Q430.0 630.1 436.9 631.1 Q443.8 630.9 443.8 632.9 Q443.8 634.9 436.9 635.1 Q430.0 634.1 430.0 632.1 Z" fill="#141414" filter="url(#bl0)"/>
<path d="M449.1 633.5 Q449.1 631.5 456.9 632.1 Q464.6 631.5 464.6 633.5 Q464.6 635.5 456.9 636.1 Q449.1 635.5 449.1 633.5 Z" fill="#141414" filter="url(#bl0)"/>
<path d="M469.2 632.0 Q469.2 630.0 476.1 630.9 Q483.0 630.5 483.0 632.5 Q483.0 634.4 476.1 634.8 Q469.2 633.9 469.2 632.0 Z" fill="#141414" filter="url(#bl0)"/>
<path d="M488.5 631.8 Q496 631 500 633 Q503 634.5 504.5 636.5" fill="none" stroke="#1a1a1a" stroke-width="3.0" stroke-linecap="round" filter="url(#bl0)"/>
<text transform="translate(269.53,581.60) scale(0.8079,1)" font-size="14.64" font-weight="bold" fill="#000" stroke="#000" stroke-width="0.15">HIF-1</text>
<text transform="translate(299.89,581.90) scale(1.6521,1)" font-size="10.80" font-weight="normal" fill="#000" stroke="#000" stroke-width="0.1">α</text>
<text transform="translate(285.19,608.60) scale(0.8695,1)" font-size="14.64" font-weight="bold" fill="#000" stroke="#000" stroke-width="0.15">CA9</text>
<text transform="translate(268.79,636.00) scale(1.0673,1)" font-size="13.50" font-weight="normal" fill="#000" stroke="#000" stroke-width="0.1">β</text>
<text transform="translate(276.99,636.00) scale(0.9561,1)" font-size="13.33" font-weight="bold" fill="#000" stroke="#000" stroke-width="0.15">-actin</text>
<text transform="translate(10.76,700.00) scale(0.9741,1)" font-size="24.35" font-weight="bold" fill="#000" stroke="#000" stroke-width="0.15">E</text>
<text transform="translate(223.01,692.70) scale(0.8361,1)" font-size="14.78" font-weight="bold" fill="#000" stroke="#000" stroke-width="0.15">CoCl</text>
<text transform="translate(251.77,697.40) scale(0.9717,1)" font-size="10.86" font-weight="normal" fill="#000" stroke="#000" stroke-width="0.1">2</text>
<path d="M190.5 704.4 V699.8 H277.8 V704.4" fill="none" stroke="#000" stroke-width="2"/>
<text transform="translate(51.01,718.00) scale(0.8508,1)" font-size="14.49" font-weight="bold" fill="#000" stroke="#000" stroke-width="0.15">GSH</text>
<text transform="translate(5.89,738.00) scale(0.8599,1)" font-size="14.49" font-weight="bold" fill="#000" stroke="#000" stroke-width="0.15">Asc.+FeSO</text>
<text transform="translate(72.12,742.10) scale(0.8502,1)" font-size="10.71" font-weight="normal" fill="#000" stroke="#000" stroke-width="0.1">4</text>
<text transform="translate(13.38,765.70) scale(0.8542,1)" font-size="14.78" font-weight="bold" fill="#000" stroke="#000" stroke-width="0.15">DNP-PHD2</text>
<text transform="translate(44.18,791.20) scale(0.8562,1)" font-size="14.78" font-weight="bold" fill="#000" stroke="#000" stroke-width="0.15">PHD2</text>
<rect x="91.70" y="714.05" width="8.40" height="1.70" fill="#000"/>
<rect x="91.70" y="734.15" width="8.40" height="1.70" fill="#000"/>
<rect x="118.80" y="714.05" width="9.20" height="1.70" fill="#000"/>
<rect x="122.55" y="710.30" width="1.70" height="9.20" fill="#000"/>
<rect x="119.20" y="734.15" width="8.40" height="1.70" fill="#000"/>
<rect x="148.30" y="714.05" width="8.40" height="1.70" fill="#000"/>
<rect x="147.90" y="734.15" width="9.20" height="1.70" fill="#000"/>
<rect x="151.65" y="730.40" width="1.70" height="9.20" fill="#000"/>
<rect x="173.90" y="714.05" width="9.20" height="1.70" fill="#000"/>
<rect x="177.65" y="710.30" width="1.70" height="9.20" fill="#000"/>
<rect x="173.90" y="734.15" width="9.20" height="1.70" fill="#000"/>
<rect x="177.65" y="730.40" width="1.70" height="9.20" fill="#000"/>
<rect x="195.90" y="714.05" width="8.40" height="1.70" fill="#000"/>
<rect x="195.90" y="734.15" width="8.40" height="1.70" fill="#000"/>
<rect x="219.90" y="714.05" width="9.20" height="1.70" fill="#000"/>
<rect x="223.65" y="710.30" width="1.70" height="9.20" fill="#000"/>
<rect x="220.30" y="734.15" width="8.40" height="1.70" fill="#000"/>
<rect x="242.00" y="714.05" width="8.40" height="1.70" fill="#000"/>
<rect x="241.60" y="734.15" width="9.20" height="1.70" fill="#000"/>
<rect x="245.35" y="730.40" width="1.70" height="9.20" fill="#000"/>
<rect x="265.70" y="714.05" width="9.20" height="1.70" fill="#000"/>
<rect x="269.45" y="710.30" width="1.70" height="9.20" fill="#000"/>
<rect x="265.70" y="734.15" width="9.20" height="1.70" fill="#000"/>
<rect x="269.45" y="730.40" width="1.70" height="9.20" fill="#000"/>
<rect x="81.10" y="748.70" width="200.70" height="22.30" fill="#eeeeee" stroke="#9a9a9a" stroke-width="1"/>
<rect x="81.10" y="775.70" width="200.70" height="22.10" fill="#eeeeee" stroke="#9a9a9a" stroke-width="1"/>
<rect x="85.40" y="754.60" width="18.00" height="5.20" rx="2.60" fill="#808080" opacity="1" filter="url(#bl1)" transform="rotate(3.00 94.4 757.2)"/>
<rect x="88.00" y="754.80" width="6.00" height="3.70" rx="1.85" fill="#666" opacity="1" filter="url(#bl1)"/>
<rect x="97.00" y="756.20" width="6.00" height="3.60" rx="1.80" fill="#666" opacity="1" filter="url(#bl1)"/>
<rect x="112.90" y="758.50" width="12.10" height="3.00" rx="1.50" fill="#c8c8c8" opacity="1" filter="url(#bl1)" transform="rotate(4.00 119.0 760.0)"/>
<rect x="127.40" y="761.80" width="6.80" height="3.60" rx="1.80" fill="#6a6a6a" opacity="1" filter="url(#bl1)"/>
<rect x="143.60" y="762.80" width="16.90" height="4.80" rx="2.40" fill="#111" opacity="1" filter="url(#bl1)"/>
<rect x="167.90" y="763.60" width="16.90" height="3.80" rx="1.90" fill="#8a8a8a" opacity="1" filter="url(#bl1)"/>
<rect x="192.20" y="763.00" width="16.00" height="5.80" rx="2.90" fill="#111" opacity="1" filter="url(#bl1)"/>
<rect x="214.40" y="764.20" width="14.80" height="4.20" rx="2.10" fill="#5a5a5a" opacity="1" filter="url(#bl1)"/>
<rect x="236.50" y="762.00" width="17.00" height="7.20" rx="3.50" fill="#0a0a0a" opacity="1" filter="url(#bl1)"/>
<rect x="260.10" y="762.20" width="17.10" height="5.60" rx="2.80" fill="#161616" opacity="1" filter="url(#bl1)"/>
<rect x="84.30" y="778.80" width="23.30" height="10.80" rx="3.50" fill="#3a3a3a" opacity="1" filter="url(#bl2)" transform="rotate(2.00 95.9 784.2)"/>
<rect x="86.00" y="779.50" width="14.00" height="6.50" rx="3.25" fill="#222" opacity="1" filter="url(#bl1)"/>
<rect x="111.80" y="783.60" width="24.40" height="8.60" rx="3.50" fill="#4a4a4a" opacity="1" filter="url(#bl2)" transform="rotate(8.00 124.0 787.9)"/>
<rect x="124.00" y="787.50" width="12.00" height="5.50" rx="2.75" fill="#2a2a2a" opacity="1" filter="url(#bl1)"/>
<rect x="141.50" y="787.20" width="21.10" height="8.80" rx="3.50" fill="#333" opacity="1" filter="url(#bl2)"/>
<rect x="166.90" y="787.40" width="19.10" height="8.60" rx="3.50" fill="#3a3a3a" opacity="1" filter="url(#bl2)"/>
<rect x="191.20" y="787.00" width="18.60" height="8.60" rx="3.50" fill="#3a3a3a" opacity="1" filter="url(#bl2)"/>
<rect x="213.40" y="787.00" width="17.20" height="8.60" rx="3.50" fill="#3a3a3a" opacity="1" filter="url(#bl2)"/>
<rect x="236.20" y="786.80" width="18.80" height="9.00" rx="3.50" fill="#1c1c1c" opacity="1" filter="url(#bl2)"/>
<rect x="259.80" y="785.60" width="19.40" height="8.80" rx="3.50" fill="#333" opacity="1" filter="url(#bl2)"/>
<text transform="translate(335.38,707.20) scale(0.9107,1)" font-size="13.77" font-weight="bold" fill="#000" stroke="#000" stroke-width="0.15">P564</text>
<text transform="translate(326.07,725.60) scale(0.9235,1)" font-size="13.77" font-weight="bold" fill="#000" stroke="#000" stroke-width="0.15">P564A</text>
<text transform="translate(293.49,744.10) scale(0.8875,1)" font-size="13.91" font-weight="bold" fill="#000" stroke="#000" stroke-width="0.15">Asc.+FeSO</text>
<text transform="translate(358.99,748.00) scale(0.9980,1)" font-size="10.71" font-weight="normal" fill="#000" stroke="#000" stroke-width="0.1">4</text>
<text transform="translate(300.68,771.00) scale(0.9515,1)" font-size="13.33" font-weight="bold" fill="#000" stroke="#000" stroke-width="0.15">DNP-PHD2</text>
<text transform="translate(331.88,796.60) scale(0.9361,1)" font-size="13.48" font-weight="bold" fill="#000" stroke="#000" stroke-width="0.15">PHD2</text>
<rect x="380.80" y="701.25" width="8.00" height="1.70" fill="#000"/>
<rect x="407.30" y="701.25" width="9.00" height="1.70" fill="#000"/>
<rect x="410.95" y="697.60" width="1.70" height="9.00" fill="#000"/>
<rect x="431.50" y="701.25" width="9.00" height="1.70" fill="#000"/>
<rect x="435.15" y="697.60" width="1.70" height="9.00" fill="#000"/>
<rect x="455.00" y="701.25" width="8.00" height="1.70" fill="#000"/>
<rect x="477.80" y="701.25" width="8.00" height="1.70" fill="#000"/>
<rect x="499.70" y="701.25" width="8.00" height="1.70" fill="#000"/>
<rect x="380.80" y="720.55" width="8.00" height="1.70" fill="#000"/>
<rect x="407.80" y="720.55" width="8.00" height="1.70" fill="#000"/>
<rect x="432.00" y="720.55" width="8.00" height="1.70" fill="#000"/>
<rect x="454.50" y="720.55" width="9.00" height="1.70" fill="#000"/>
<rect x="458.15" y="716.90" width="1.70" height="9.00" fill="#000"/>
<rect x="477.30" y="720.55" width="9.00" height="1.70" fill="#000"/>
<rect x="480.95" y="716.90" width="1.70" height="9.00" fill="#000"/>
<rect x="499.70" y="720.55" width="8.00" height="1.70" fill="#000"/>
<rect x="380.80" y="740.45" width="8.00" height="1.70" fill="#000"/>
<rect x="407.80" y="740.45" width="8.00" height="1.70" fill="#000"/>
<rect x="431.50" y="740.45" width="9.00" height="1.70" fill="#000"/>
<rect x="435.15" y="736.80" width="1.70" height="9.00" fill="#000"/>
<rect x="455.00" y="740.45" width="8.00" height="1.70" fill="#000"/>
<rect x="477.30" y="740.45" width="9.00" height="1.70" fill="#000"/>
<rect x="480.95" y="736.80" width="1.70" height="9.00" fill="#000"/>
<rect x="499.20" y="740.45" width="9.00" height="1.70" fill="#000"/>
<rect x="502.85" y="736.80" width="1.70" height="9.00" fill="#000"/>
<rect x="370.00" y="752.00" width="142.60" height="21.90" fill="#f0f0f0" stroke="#a0a0a0" stroke-width="1"/>
<rect x="370.00" y="778.90" width="142.60" height="22.20" fill="#f0f0f0" stroke="#a0a0a0" stroke-width="1"/>
<rect x="402.30" y="763.60" width="16.40" height="2.40" rx="1.20" fill="#d8d8d8" opacity="1" filter="url(#bl1)"/>
<rect x="424.60" y="762.30" width="18.50" height="5.90" rx="2.95" fill="#0c0c0c" opacity="1" filter="url(#bl1)"/>
<rect x="448.50" y="764.60" width="14.90" height="2.20" rx="1.10" fill="#dcdcdc" opacity="1" filter="url(#bl1)"/>
<rect x="470.80" y="762.90" width="15.80" height="5.30" rx="2.65" fill="#111" opacity="1" filter="url(#bl1)"/>
<rect x="492.60" y="763.50" width="14.90" height="5.30" rx="2.65" fill="#111" opacity="1" filter="url(#bl1)"/>
<rect x="372.00" y="783.20" width="14.50" height="6.00" rx="3.00" fill="#333" opacity="1" filter="url(#bl1)" transform="rotate(8.00 379.2 786.2)"/>
<rect x="382.50" y="786.00" width="14.30" height="6.00" rx="3.00" fill="#333" opacity="1" filter="url(#bl1)" transform="rotate(10.00 389.6 789.0)"/>
<rect x="400.00" y="788.60" width="21.20" height="6.80" rx="3.40" fill="#333" opacity="1" filter="url(#bl2)"/>
<rect x="425.30" y="788.60" width="19.80" height="6.80" rx="3.40" fill="#2c2c2c" opacity="1" filter="url(#bl2)"/>
<rect x="449.80" y="789.00" width="18.20" height="6.80" rx="3.40" fill="#333" opacity="1" filter="url(#bl2)"/>
<rect x="470.60" y="788.00" width="17.40" height="7.00" rx="3.50" fill="#333" opacity="1" filter="url(#bl2)"/>
<rect x="492.40" y="788.00" width="18.30" height="7.00" rx="3.50" fill="#333" opacity="1" filter="url(#bl2)"/>
</svg></body></html>
